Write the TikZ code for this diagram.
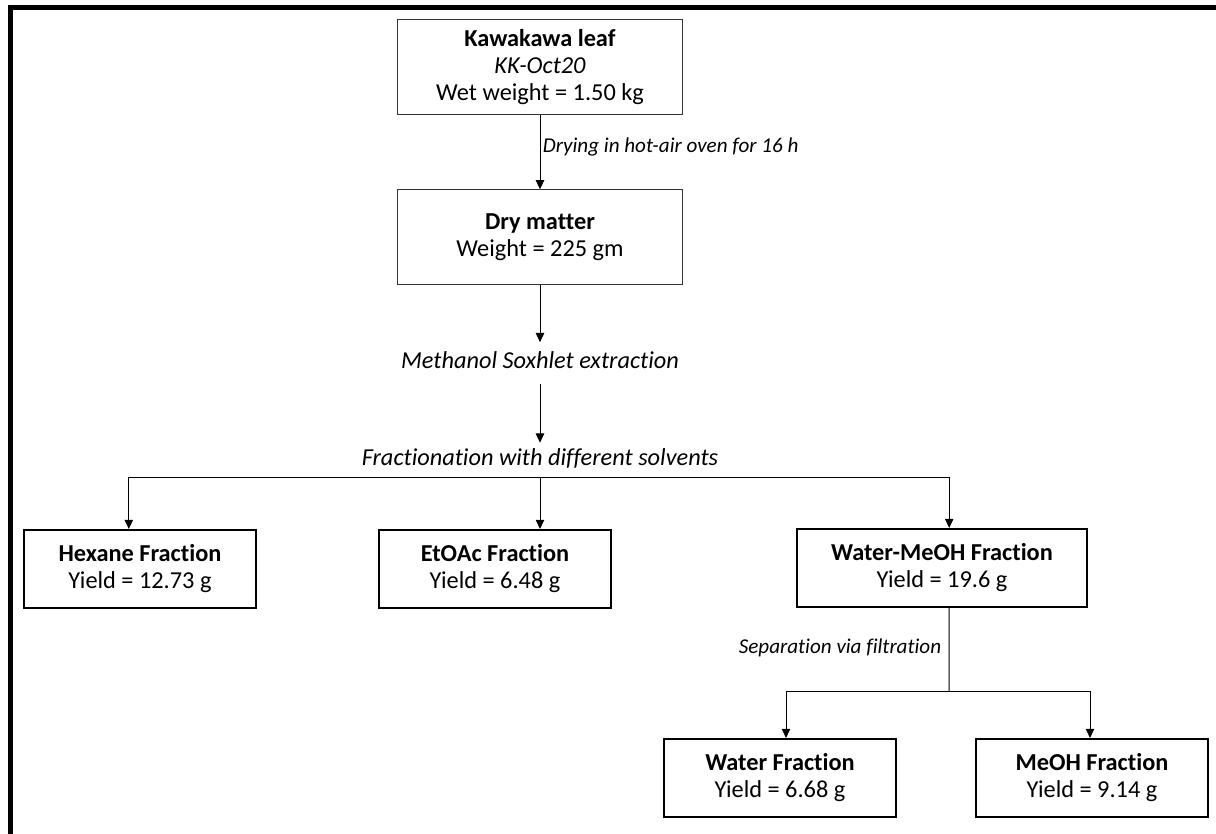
\documentclass[tikz,border=0pt]{standalone}
\usepackage{fontspec}
\setmainfont[Ligatures=NoCommon]{Carlito}
\usepackage{tikz}
\usetikzlibrary{arrows.meta}

\begin{document}
\begin{tikzpicture}[x=0.025cm, y=-0.025cm, line width=0.7pt,
	>={Triangle[width=6pt,length=6.5pt]}]
	\tikzstyle{every node} = [rectangle, align=center, font=\fontsize{17.3}{19.2}\selectfont]
	\tikzstyle{thinbox} = [draw=black!80, line width=0.7pt, minimum width=7.12cm, minimum height=2.36cm]
	\tikzstyle{thickbox} = [draw, line width=1.5pt, minimum width=5.8cm, minimum height=1.95cm]
	\tikzstyle{step label} = [font=\fontsize{17.3}{18.8}\selectfont\itshape, text height=11pt, text depth=3pt]
	\tikzstyle{side label} = [font=\fontsize{15}{18}\selectfont\itshape, inner sep=1pt]
	\useasboundingbox (0,0) rectangle (1216,834);
	\draw[line width=3.6pt] (10.5,834) -- (10.5,7.5) -- (1216,7.5);
	\node[thinbox] (leaf) at (540,67) {\textbf{Kawakawa leaf}\\\textit{KK-Oct20}\\Wet weight = 1.50 kg};
	\node[thinbox] (dry)  at (540,237) {\textbf{Dry matter}\\Weight = 225 gm};
	\node[step label, inner ysep=7.5pt] (soxhlet) at (540,363) {Methanol Soxhlet extraction};
	\node[step label, inner ysep=5pt]   (frac)    at (540,460) {Fractionation with different solvents};
	\node[thickbox] (hexane) at (140,569) {\textbf{Hexane Fraction}\\Yield = 12.73 g};
	\node[thickbox] (etoac)  at (495,569) {\textbf{EtOAc Fraction}\\Yield = 6.48 g};
	\node[thickbox, minimum width=7.25cm] (wmeoh) at (942,568) {\textbf{Water-MeOH Fraction}\\Yield = 19.6 g};
	\node[thickbox] (water) at (780,778) {\textbf{Water Fraction}\\Yield = 6.68 g};
	\node[thickbox] (meoh)  at (1092,778) {\textbf{MeOH Fraction}\\Yield = 9.14 g};
	\node[side label, anchor=west] (drying) at (541,147) {Drying in hot-air oven for 16 h};
	\node[side label] (filt) at (840,648) {Separation via filtration};
	\coordinate (split) at (949,691);
	\draw [->] (leaf) -- (dry);
	\draw [->] (dry) -- (soxhlet);
	\draw [->] (soxhlet) -- (frac);
	\draw [->] (frac.south) -| ([xshift=-0.28cm]hexane.north);
	\draw [->] (frac.south) -- (frac.south |- etoac.north);
	\draw [->] (frac.south) -| ([xshift=0.18cm]wmeoh.north);
	\draw      ([xshift=0.18cm]wmeoh.south) -- (split);
	\draw [->] (split) -| ([xshift=0.15cm]water.north);
	\draw [->] (split) -| ([xshift=-0.05cm]meoh.north);
\end{tikzpicture}
\end{document}
